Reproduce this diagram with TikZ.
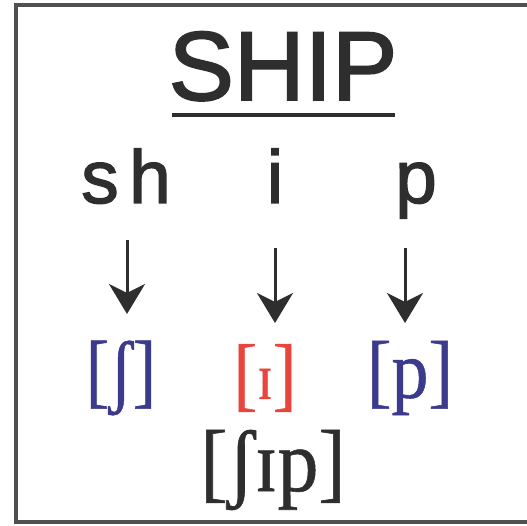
\documentclass[tikz,border=0pt]{standalone}
\usepackage{fontspec}
\usepackage{graphicx}
\setmainfont{Liberation Serif}[BoldFont=Liberation Serif, BoldFeatures={FakeBold=0.7}]
\newfontfamily\arialf{Liberation Sans}[BoldFont=Liberation Sans, BoldFeatures={FakeBold=1.8}]
\usetikzlibrary{arrows.meta}
\definecolor{inkgray}{HTML}{2E2E2E}
\definecolor{framegray}{HTML}{505050}
\definecolor{ipablue}{HTML}{3C3A8C}
\definecolor{ipared}{HTML}{E8453C}
\tikzset{
  frameline/.style={draw=framegray, line width=4pt},
  titletxt/.style={font=\arialf\bfseries\fontsize{98}{98}\selectfont, text=inkgray, inner sep=0pt, anchor=base},
  lettertxt/.style={font=\arialf\bfseries\fontsize{75}{75}\selectfont, text=inkgray, inner sep=0pt, anchor=base},
  ipatxt/.style={font=\bfseries\fontsize{82}{82}\selectfont, inner sep=0pt},
  wordtxt/.style={font=\bfseries\fontsize{88}{88}\selectfont, text=inkgray, inner sep=0pt},
  downarrow/.style={draw=inkgray, line width=3pt, -{Stealth[length=30pt,width=36pt,inset=9pt]}},
  underl/.style={draw=inkgray, line width=4pt}
}
\begin{document}
\begin{tikzpicture}[x=1pt,y=-1pt]
\useasboundingbox (0,0) rectangle (527,526);
\fill[white] (0,0) rectangle (527,526);
% frame (open to the right)
\draw[frameline] (530,5) -- (16,5) -- (16,522) -- (530,522);
% title
\node[titletxt] (ship) at (283,100) {SHIP};
\coordinate (ulL) at (172,115);
\coordinate (ulR) at (395,115);
\draw[underl] (ulL) -- (ulR);
% letters
\node[lettertxt] (s) at (100,203) {s};
\node[lettertxt] (h) at (150,203) {h};
\node[lettertxt] (i) at (275,203) {i};
\node[lettertxt] (p) at (416,203) {p};
% IPA
\node[ipatxt, text=ipablue] (ipa1) at (121,378) {\scalebox{0.86}[1]{[ʃ]}};
\node[ipatxt, text=ipared] (ipa2) at (265,378) {\scalebox{0.86}[1]{[\raisebox{2pt}{\scalebox{0.8}{ɪ}}]}};
\node[ipatxt, text=ipablue] (ipa3) at (410,378) {\scalebox{0.9}[1]{[p]}};
\node[wordtxt] (word) at (273,470) {\scalebox{0.93}[1]{[ʃɪp]}};
% arrows
\coordinate (a1) at (127,240);
\coordinate (a2) at (275,248);
\coordinate (a3) at (405,248);
\coordinate (b1) at (127,314);
\coordinate (b2) at (275,323);
\coordinate (b3) at (405,323);
\draw[downarrow] (a1) -- (b1);
\draw[downarrow] (a2) -- (b2);
\draw[downarrow] (a3) -- (b3);
\end{tikzpicture}
\end{document}
